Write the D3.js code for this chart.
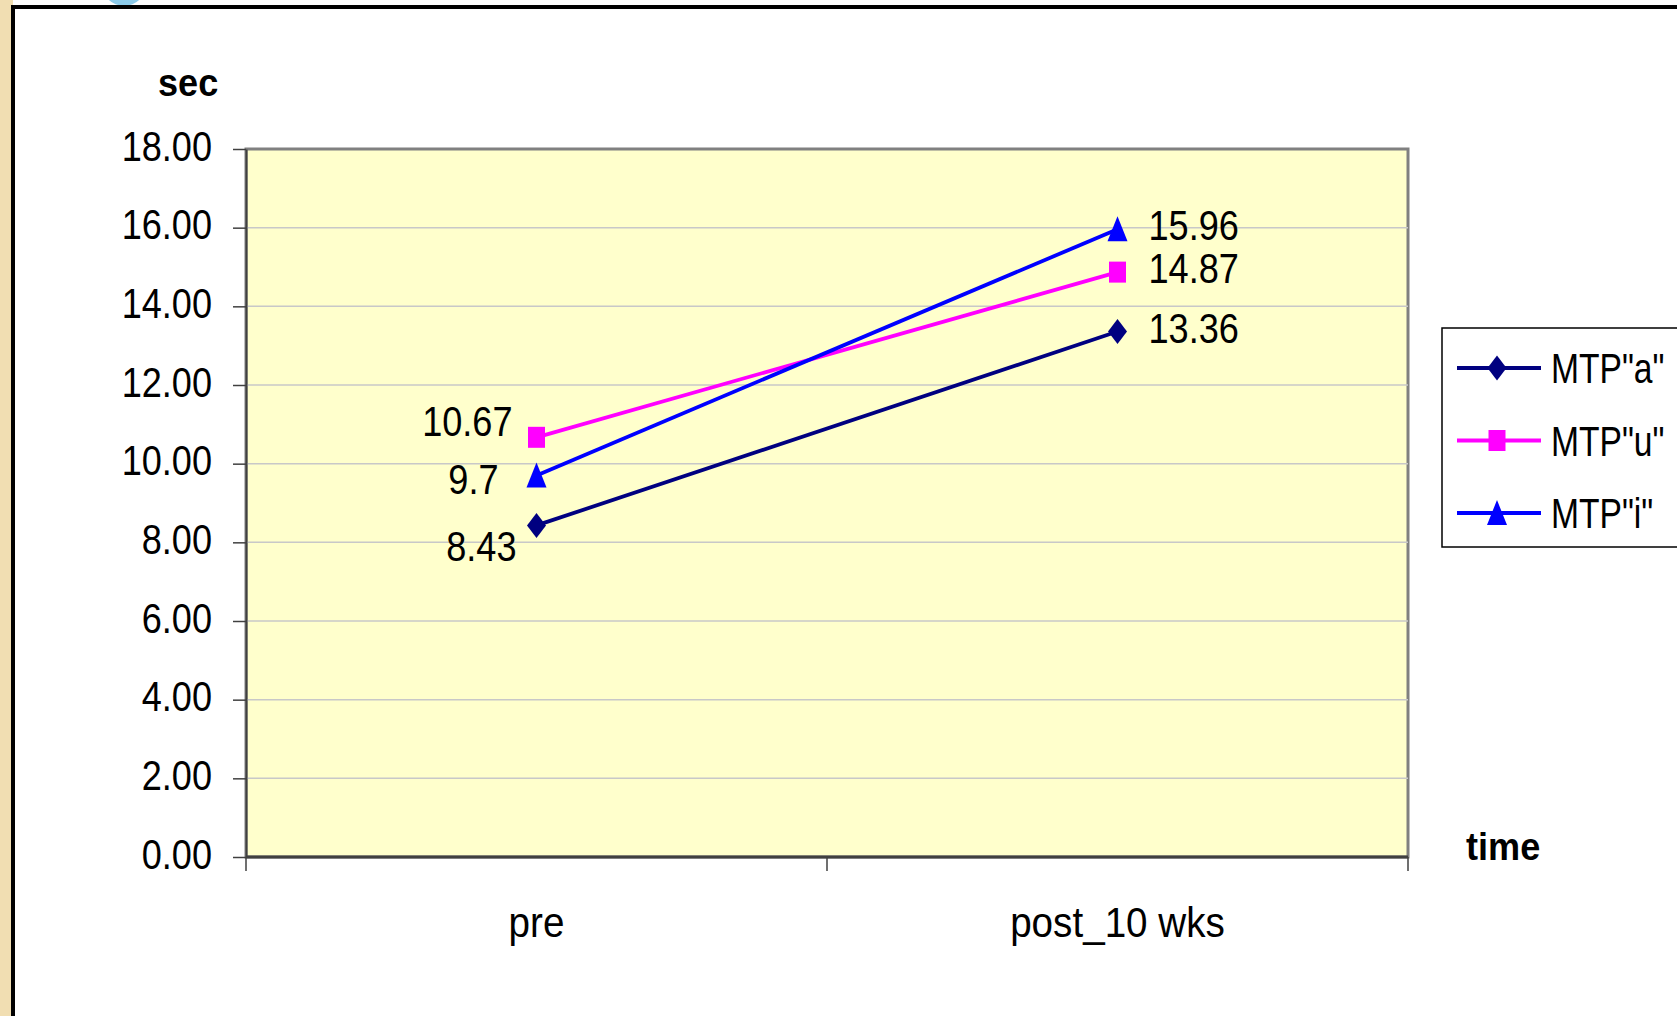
<!DOCTYPE html>
<html>
<head>
<meta charset="utf-8">
<script src="https://cdn.jsdelivr.net/npm/d3@7"></script>
<style>
  body { margin: 0; background: #fff; }
  svg { display: block; }
  text { font-family: "Liberation Sans", Arial, sans-serif; fill: #000; }
</style>
</head>
<body>
<svg id="chart" width="1677" height="1016"></svg>
<script>
// chart values
const categories = ["pre", "post_10 wks"];
const seriesNames = ['MTP"a"', 'MTP"u"', 'MTP"i"'];
const valuesA = [8.43, 13.36];
const valuesU = [10.67, 14.87];
const valuesI = [9.7, 15.96];
const yTicks = [0, 2, 4, 6, 8, 10, 12, 14, 16, 18];

const svg = d3.select("#chart");
const W = 1677, H = 1016;

// plot box
const plot = {left: 246, right: 1408, top: 149, bottom: 857};
const fs = 42, sx = 0.86;   // text size, horizontal squeeze

const series = [
    {name: seriesNames[0], values: valuesA, color: "#000080", shape: "diamond", nudge: [-20, 22]},
    {name: seriesNames[1], values: valuesU, color: "#FF00FF", shape: "square",  nudge: [-24, -15]},
    {name: seriesNames[2], values: valuesI, color: "#0000FF", shape: "triangle", nudge: [-38, 5]}
];

const x = d3.scaleBand().domain(categories).range([plot.left, plot.right]);
const cx = function (c) { return x(c) + x.bandwidth() / 2; };
const y = d3.scaleLinear().domain([0, 18]).range([plot.bottom, plot.top]);

// background decoration (slide edge)
svg.append("rect").attr("x", 0).attr("y", 0).attr("width", 13).attr("height", H).attr("fill", "#F1DEB2");
svg.append("circle").attr("cx", 124).attr("cy", -16).attr("r", 22).attr("fill", "#8CCBEA");
svg.append("rect").attr("x", 13).attr("y", 7).attr("width", W).attr("height", H)
    .attr("fill", "#fff").attr("stroke", "#000").attr("stroke-width", 4);

// text helper: squeezed text placed at (px, py)
function label(g, str, px, py, opts) {
    opts = opts || {};
    return g.append("text")
        .attr("transform", "translate(" + px + "," + py + ") scale(" + (opts.sx || sx) + ",1)")
        .attr("text-anchor", opts.anchor || "start")
        .attr("font-size", opts.size || fs)
        .attr("font-weight", opts.bold ? "bold" : null)
        .text(str);
}

// plot area
svg.append("rect")
    .attr("x", plot.left).attr("y", plot.top)
    .attr("width", plot.right - plot.left).attr("height", plot.bottom - plot.top)
    .attr("fill", "#FFFFCC").attr("stroke", "#808080").attr("stroke-width", 3);

// gridlines
svg.append("g").selectAll("line")
    .data(yTicks.filter(function (d) { return d > 0 && d < 18; }))
    .enter().append("line")
    .attr("x1", plot.left).attr("x2", plot.right)
    .attr("y1", function (d) { return y(d); }).attr("y2", function (d) { return y(d); })
    .attr("stroke", "#C8C8C8").attr("stroke-width", 1.5);

// y axis
const yAxis = svg.append("g")
    .attr("transform", "translate(" + plot.left + ",0)")
    .call(d3.axisLeft(y).tickValues(yTicks).tickSize(13).tickSizeOuter(0).tickFormat(d3.format(".2f")));
yAxis.select(".domain").attr("stroke", "#404040").attr("stroke-width", 2);
yAxis.selectAll(".tick line").attr("stroke", "#404040").attr("stroke-width", 1.5);
yAxis.selectAll(".tick text")
    .attr("font-size", fs).attr("font-family", '"Liberation Sans", Arial, sans-serif')
    .attr("x", 0).attr("dy", null).attr("y", 0)
    .attr("transform", "translate(-34,11) scale(" + sx + ",1)")
    .attr("fill", "#000");

// x axis
const xg = svg.append("g");
xg.append("line")
    .attr("x1", plot.left).attr("x2", plot.right)
    .attr("y1", plot.bottom).attr("y2", plot.bottom)
    .attr("stroke", "#404040").attr("stroke-width", 3);
xg.selectAll("line.tk")
    .data(categories.map(function (c) { return x(c); }).concat([plot.right]))
    .enter().append("line").attr("class", "tk")
    .attr("x1", function (d) { return d; }).attr("x2", function (d) { return d; })
    .attr("y1", plot.bottom).attr("y2", plot.bottom + 14)
    .attr("stroke", "#404040").attr("stroke-width", 1.5);
categories.forEach(function (c) {
    label(xg, c, cx(c), 937, {anchor: "middle", sx: 0.92});
});

// axis titles
label(svg, "sec", 158, 96, {bold: true, size: 38, sx: 0.95});
label(svg, "time", 1466, 860, {bold: true, size: 38, sx: 0.95});

// marker shapes
function markerPath(shape) {
    if (shape === "diamond") return "M0,-12.5L9.5,0L0,12.5L-9.5,0Z";
    if (shape === "square") return "M-8.5,-10.5H8.5V10.5H-8.5Z";
    return "M0,-13L10,12H-10Z";
}

const line = d3.line()
    .x(function (d, i) { return cx(categories[i]); })
    .y(function (d) { return y(d); });

series.forEach(function (s) {
    const g = svg.append("g");
    g.append("path").datum(s.values)
        .attr("d", line).attr("fill", "none")
        .attr("stroke", s.color).attr("stroke-width", 3.8);
    g.selectAll("path.mk").data(s.values).enter().append("path").attr("class", "mk")
        .attr("transform", function (d, i) { return "translate(" + cx(categories[i]) + "," + y(d) + ")"; })
        .attr("d", markerPath(s.shape)).attr("fill", s.color);
});

// data labels
series.forEach(function (s) {
    const p0 = [cx(categories[0]), y(s.values[0])];
    const p1 = [cx(categories[1]), y(s.values[1])];
    label(svg, String(s.values[0]), p0[0] + s.nudge[0], p0[1] + s.nudge[1] + 14, {anchor: "end"});
    label(svg, String(s.values[1]), p1[0] + 31, p1[1] - 3 + 14);
});

// legend
const lg = svg.append("g");
lg.append("rect").attr("x", 1442).attr("y", 328).attr("width", 300).attr("height", 219)
    .attr("fill", "#fff").attr("stroke", "#000").attr("stroke-width", 1.5);
series.forEach(function (s, i) {
    const ly = 368 + i * 72.5;
    lg.append("line").attr("x1", 1457).attr("x2", 1541).attr("y1", ly).attr("y2", ly)
        .attr("stroke", s.color).attr("stroke-width", 4);
    lg.append("path").attr("transform", "translate(1497," + ly + ")")
        .attr("d", markerPath(s.shape)).attr("fill", s.color);
    label(lg, s.name, 1551, ly + 15, {sx: 0.8, size: 42});
});
</script>
</body>
</html>
